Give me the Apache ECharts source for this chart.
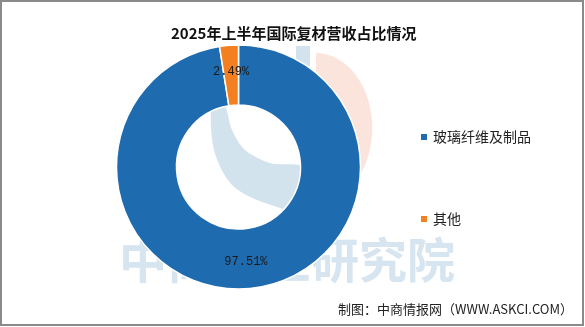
<!DOCTYPE html>
<html>
<head>
<meta charset="utf-8">
<script src="https://cdn.jsdelivr.net/npm/echarts@6/dist/echarts.min.js"></script>
<style>
html,body{margin:0;padding:0;background:#fff;}
#chart{width:585px;height:327px;}
</style>
</head>
<body>
<div id="chart"></div>
<script>
const titleText = '2025年上半年国际复材营收占比情况';
const categories = ['玻璃纤维及制品', '其他'];
const values = [97.51, 2.49];
const colors = ['#1f6bb0', '#f47f20'];
const sourceText = '制图：中商情报网（WWW.ASKCI.COM）';
const watermarkText = '中商产业研究院';

const chart = echarts.init(document.getElementById('chart'), null, {renderer: 'canvas'});
const option = {
  animation: false,
  backgroundColor: '#fff',
  title: {
    text: titleText,
    left: 166, top: 21,
    textStyle: {fontFamily: 'Noto Sans CJK SC', fontWeight: 'bold', fontSize: 15, color: '#111'}
  },
  legend: {
    orient: 'vertical',
    left: 414, top: 125,
    itemWidth: 8, itemHeight: 8,
    itemGap: 68,
    icon: 'rect',
    data: categories,
    textStyle: {fontFamily: 'Noto Sans CJK SC', fontSize: 14, color: '#222'}
  },
  graphic: [
    {type: 'sector', z: 0, x: 316, y: 128, scaleX: 0.75,
      shape: {cx: 0, cy: 0, r: 75, startAngle: -Math.PI / 2, endAngle: Math.PI / 2},
      style: {fill: '#fbe4dc'}},
    {type: 'rect', z: 0, shape: {x: 296, y: 46, width: 14, height: 20}, style: {fill: '#d3e3ee'}},
    {type: 'polygon', z: 0,
      shape: {points: [[212,104],[214,150],[232,185],[265,203],[305,210],[305,168],[270,163],[245,150],[232,130],[224,104]], smooth: 0.3},
      style: {fill: '#d3e3ee'}},
    {type: 'text', z: 0, left: 119, top: 236, style: {text: watermarkText, font: 'bold 48px "Noto Sans CJK SC"', fill: '#d6e5f0'}},
    {type: 'text', z: 10, right: 12, top: 303, style: {text: sourceText, font: '13px "Noto Sans CJK SC"', fill: '#222'}},
    {type: 'rect', z: 20, shape: {x: 1, y: 1, width: 582, height: 324}, style: {fill: null, stroke: '#8a8a8a', lineWidth: 2}}
  ],
  series: [{
    type: 'pie',
    center: [238.5, 167],
    radius: [62, 122],
    startAngle: 90,
    clockwise: true,
    z: 5,
    data: categories.map((c, i) => ({name: c, value: values[i], itemStyle: {color: colors[i]}})),
    itemStyle: {borderColor: '#fff', borderWidth: 1.5},
    label: {
      show: true, position: 'inside',
      formatter: p => p.value.toFixed(2) + '%',
      fontFamily: 'Liberation Mono', fontSize: 12, color: '#1a1a1a'
    },
    labelLine: {show: false},
    emphasis: {disabled: true}
  }]
};
chart.setOption(option);
</script>
</body>
</html>
